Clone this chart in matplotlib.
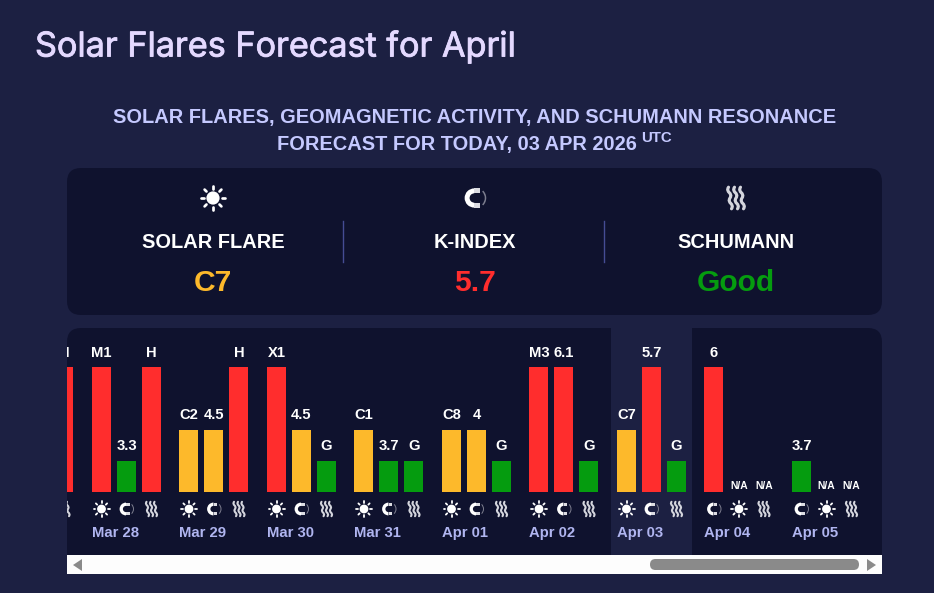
import matplotlib
matplotlib.use("Agg")
import matplotlib.pyplot as plt
import matplotlib.patheffects as pe
from matplotlib.patches import Circle, FancyBboxPatch, PathPatch, Polygon, Rectangle, Wedge
from matplotlib.path import Path

BG = "#1c2042"
PANEL = "#0f122e"
RED = "#ff2d2d"
AMBER = "#fdb92b"
GREEN = "#059c0f"
SANS = "Liberation Sans"

# chart data, one entry per day, icons/bars go left to right in the order of "kinds"
dates = ["Mar 27", "Mar 28", "Mar 29", "Mar 30", "Mar 31", "Apr 01", "Apr 02", "Apr 03", "Apr 04", "Apr 05"]
kinds = [
    ["sun", "magnet", "wave"], ["sun", "magnet", "wave"], ["sun", "magnet", "wave"],
    ["sun", "magnet", "wave"], ["sun", "magnet", "wave"], ["sun", "magnet", "wave"],
    ["sun", "magnet", "wave"], ["sun", "magnet", "wave"],
    ["magnet", "sun", "wave"], ["magnet", "sun", "wave"],
]
labels = [
    ["", "", "H"], ["M1", "3.3", "H"], ["C2", "4.5", "H"], ["X1", "4.5", "G"], ["C1", "3.7", "G"],
    ["C8", "4", "G"], ["M3", "6.1", "G"], ["C7", "5.7", "G"], ["6", "N/A", "N/A"], ["3.7", "N/A", "N/A"],
]
levels = [
    [0, 0, 100], [100, 25, 100], [50, 50, 100], [100, 50, 25], [50, 25, 25],
    [50, 50, 25], [100, 100, 25], [50, 100, 25], [100, 0, 0], [25, 0, 0],
]
today = "Apr 03"
level_colors = {25: GREEN, 50: AMBER, 100: RED}

summary_kinds = ["sun", "magnet", "wave"]
summary_titles = ["SOLAR FLARE", "K-INDEX", "SCHUMANN"]
summary_values = ["C7", "5.7", "Good"]
summary_colors = [AMBER, RED, GREEN]

fig = plt.figure(figsize=(9.34, 5.93), dpi=100, facecolor=BG)
# background axes works in screen pixels, y going down
ax = fig.add_axes([0, 0, 1, 1], zorder=0)
ax.set_xlim(0, 934)
ax.set_ylim(593, 0)
ax.axis("off")


def panel(x0, y0, x1, y1, r=14):
    ax.add_patch(FancyBboxPatch((x0 + r, y0 + r), x1 - x0 - 2 * r, y1 - y0 - 2 * r,
                                boxstyle=f"round,pad={r},rounding_size={r}",
                                fc=PANEL, ec="none"))


def draw_icon(target, kind, cx, cy, s=1.0):
    t = ax.transData
    if kind == "sun":
        target.add_patch(Circle((cx, cy), 4.4 * s, fc="white", ec="none", transform=t))
        for dx, dy in [(1, 0), (-1, 0), (0, 1), (0, -1), (.7, .7), (-.7, .7), (.7, -.7), (-.7, -.7)]:
            target.plot([cx + dx * 6.2 * s, cx + dx * 8 * s], [cy + dy * 6.2 * s, cy + dy * 8 * s],
                        color="white", lw=1.3 * s, solid_capstyle="round", transform=t)
    elif kind == "magnet":
        cx = cx - 0.5 * s
        target.add_patch(Wedge((cx, cy), 6.4 * s, 90, 270, width=3.3 * s, fc="white", ec="none", transform=t))
        target.add_patch(Rectangle((cx, cy - 6.4 * s), 3.6 * s, 3.3 * s, fc="#dcdce2", ec="none", transform=t))
        target.add_patch(Rectangle((cx, cy + 3.1 * s), 3.6 * s, 3.3 * s, fc="#dcdce2", ec="none", transform=t))
        target.add_patch(Wedge((cx + 1 * s, cy), 7 * s, -45, 45, width=1 * s, fc="#7c7d8e", ec="none", transform=t))
    else:
        for off in (-4, 0, 4):
            x = cx + off * s
            h = 7.2 * s
            a = 2.2 * s
            verts = [(x - 1 * s, cy - h), (x - 1 * s - a, cy - h / 2), (x + a, cy - h / 2),
                     (x, cy), (x - a, cy + h / 2), (x + 1 * s + a, cy + h / 2), (x + 1 * s, cy + h)]
            codes = [Path.MOVETO] + [Path.CURVE4] * 6
            target.add_patch(PathPatch(Path(verts, codes), fc="none", ec="#d4d5dd", lw=1.5 * s,
                                       capstyle="round", transform=t))


# headings
title = ax.text(35, 47, "Solar Flares Forecast for April", family="Inter", fontsize=24.6,
                color="#e4d9ff", va="center", ha="left")
title.set_path_effects([pe.withStroke(linewidth=0.6, foreground="#e4d9ff")])
ax.text(474.5, 117, "SOLAR FLARES, GEOMAGNETIC ACTIVITY, AND SCHUMANN RESONANCE", family=SANS, weight="bold",
        fontsize=14.4, color="#c5c9ff", va="center", ha="center")
ax.text(456.5, 144.5, "FORECAST FOR TODAY, 03 APR 2026", family=SANS, weight="bold",
        fontsize=14.4, color="#c5c9ff", va="center", ha="center")
ax.text(641, 138.5, "UTC", family=SANS, weight="bold", fontsize=10.8, color="#c5c9ff", va="center", ha="left")

# today's summary
panel(67, 168, 882, 315)
for kind, name, value, col, cx in zip(summary_kinds, summary_titles, summary_values, summary_colors, [213, 475, 736]):
    draw_icon(ax, kind, cx, 198, 1.5)
    ax.text(cx, 242, name, family=SANS, weight="bold", fontsize=14.4, color="white", va="center", ha="center")
    ax.text(cx, 283, value, family=SANS, weight="bold", fontsize=21.6, color=col, va="center", ha="center")
for x in (343, 604):
    ax.plot([x, x], [221, 262], color="#454c94", lw=1.0)

# scrolling bars panel
panel(67, 328, 882, 574)
ax.add_patch(Rectangle((67, 555), 815, 19, fc="#fdfdfd", ec="none"))
ax.add_patch(FancyBboxPatch((650, 559), 209, 11, boxstyle="round,pad=0,rounding_size=5.5",
                            fc="#8a8a8a", ec="none"))
ax.add_patch(Polygon([[82, 559], [82, 571], [73, 565]], fc="#8a8a8a", ec="none"))
ax.add_patch(Polygon([[867, 559], [867, 571], [876, 565]], fc="#8a8a8a", ec="none"))

# 87.5 px per day, 125 px for level 100, baseline at y=492
bar_ax = fig.add_axes([67 / 934, 1 - 555 / 593, 815 / 934, 227 / 593], zorder=1)
bar_ax.patch.set_alpha(0)
bar_ax.axis("off")
DAY_PX = 87.5
bar_ax.set_xlim((67 - 4.5) / DAY_PX, (882 - 4.5) / DAY_PX)
bar_ax.set_ylim(-63 / 1.25, 164 / 1.25)
bar_w = 19 / DAY_PX
step = 25 / DAY_PX

t_idx = dates.index(today)
bar_ax.axvspan(t_idx - 6 / DAY_PX, t_idx + 75 / DAY_PX, color=BG, lw=0, zorder=0)

for i, day in enumerate(dates):
    for j in range(3):
        x = i + j * step
        lev = levels[i][j]
        px = 4.5 + x * DAY_PX + 9.5
        if lev:
            bar_ax.bar(x, lev, width=bar_w, align="edge", color=level_colors[lev], zorder=2)
        lab = labels[i][j]
        if lab == "N/A":
            bar_ax.text(x + bar_w / 2, lev + 4.5, lab, family=SANS, weight="bold", fontsize=7.4,
                        color="white", ha="center", va="center", clip_on=True, zorder=3)
        elif lab:
            bar_ax.text(x + bar_w / 2, lev + 11.5, lab, family=SANS, weight="bold", fontsize=10.6,
                        color="white", ha="center", va="center", clip_on=True, zorder=3)
        draw_icon(bar_ax, kinds[i][j], px, 509)
    bar_ax.text(i, -32.8, day, family=SANS, weight="bold", fontsize=10.7, color="#b0b5f0",
                ha="left", va="center", clip_on=True, zorder=3)

fig.savefig("out.png", dpi=100, facecolor=BG)
